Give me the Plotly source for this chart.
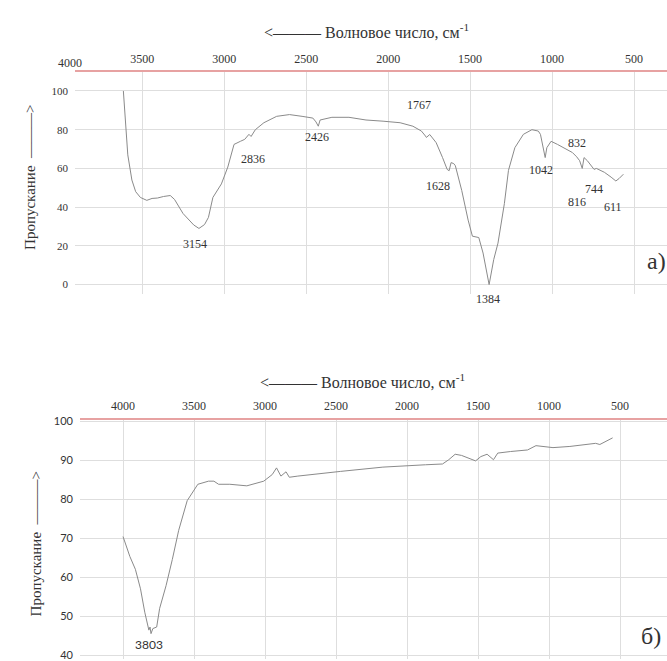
import plotly.graph_objects as go

W, H = 667, 661

# ---- Spectrum a) ----
wn_a = [3615, 3605, 3595, 3588, 3563, 3540, 3511, 3472, 3440, 3407, 3370, 3329, 3303, 3251,
        3186, 3154, 3120, 3096, 3069, 3017, 2978, 2940, 2901, 2875, 2849, 2836, 2810, 2758,
        2680, 2602, 2525, 2459, 2440, 2426, 2415, 2343, 2239, 2135, 2031, 1927, 1849, 1797,
        1772, 1767, 1746, 1707, 1668, 1640, 1628, 1616, 1600, 1590, 1551, 1512, 1486, 1447,
        1421, 1384, 1356, 1330, 1291, 1266, 1227, 1175, 1123, 1084, 1071, 1042, 1032, 1006,
        967, 915, 876, 850, 832, 816, 805, 785, 760, 744, 730, 700, 681, 640, 611, 591, 565]
tr_a = [100, 88, 76, 67, 54, 48, 45, 43.5, 44.5, 44.7, 45.5, 46, 44, 36.7,
        30.8, 29, 31, 34.7, 45, 52, 60.7, 72.4, 74, 75, 77.6, 76.5, 80, 83.6,
        86.9, 87.8, 86.9, 86, 84, 81.8, 85, 86.4, 86.4, 85, 84.4, 83.6, 81.8, 79.3,
        76.7, 76, 77.5, 73.3, 65.6, 59.5, 58.8, 63, 62.5, 61.4, 48.6, 33.3, 25, 24.3,
        16.3, 0, 12.9, 21.4, 41.8, 59, 70.7, 77.6, 80, 79.3, 77.6, 65.6, 70.7, 74,
        72.4, 69.9, 68.2, 66, 64, 60, 65.6, 64, 61, 59.5, 60, 59, 58, 55.5, 53.5, 54.8, 57]

peak_text_a = ["3154", "2836", "2426", "1767", "1628", "1384", "1042", "832", "816", "744", "611"]
peak_x_a = [3180, 2824, 2434, 1812, 1696, 1388, 1067, 850, 850, 746, 629]
peak_y_a = [21, 65, 76, 93, 51, -4, 59, 73.3, 42.7, 49.5, 40]

# ---- Spectrum б) ----
wn_b = [4000, 3952, 3913, 3877, 3847, 3818, 3810, 3803, 3790, 3763, 3742, 3697, 3653, 3608,
        3548, 3503, 3473, 3398, 3360, 3327, 3248, 3128, 3009, 2949, 2919, 2888, 2852, 2829,
        2769, 2469, 2170, 1870, 1750, 1706, 1661, 1616, 1571, 1517, 1480, 1436, 1391, 1361,
        1271, 1151, 1092, 972, 853, 672, 642, 552]
tr_b = [70.4, 65.3, 62, 57, 51, 46.4, 47.2, 45.5, 46.8, 47.2, 52, 57.8, 64.5, 72,
        79.6, 82, 83.8, 84.6, 84.6, 83.8, 83.8, 83.4, 84.6, 86.3, 88, 85.9, 87, 85.6,
        85.9, 87.1, 88.2, 88.8, 89, 90.1, 91.5, 91.2, 90.5, 89.8, 90.9, 91.5, 90.1, 91.8,
        92.2, 92.6, 93.7, 93.2, 93.5, 94.3, 94, 95.7]

peak_text_b = ["3803"]
peak_x_b = [3817]
peak_y_b = [42.6]

ticks_top = [3500, 3000, 2500, 2000, 1500, 1000, 500]
ticks_top_b = [4000, 3500, 3000, 2500, 2000, 1500, 1000, 500]
yticks_a = [0, 20, 40, 60, 80, 100]
yticks_b = [40, 50, 60, 70, 80, 90, 100]

SERIF = "Liberation Serif"
SANS = "Lato"
LINE = "#8a8a8a"
GRID = "#dedede"
RED = "#e7a2a2"
TXT = "#333333"

def py(p):
    return 1 - p / H

def px(p):
    return p / W

fig = go.Figure()
fig.add_trace(go.Scatter(x=wn_a, y=tr_a, mode="lines", line=dict(color=LINE, width=1),
                         xaxis="x", yaxis="y", showlegend=False, hoverinfo="skip"))
fig.add_trace(go.Scatter(x=wn_b, y=tr_b, mode="lines", line=dict(color=LINE, width=1),
                         xaxis="x2", yaxis="y2", showlegend=False, hoverinfo="skip"))

common_x = dict(side="top", showline=True, linecolor=RED, linewidth=1.5, showgrid=True,
                gridcolor=GRID, gridwidth=1, zeroline=False, ticks="", ticklabelstandoff=3,
                tickfont=dict(family=SERIF, size=12, color=TXT))
common_y = dict(showline=False, showgrid=True, gridcolor=GRID, gridwidth=1, zeroline=False,
                ticks="", ticklabelstandoff=6, ticklabeloverflow="allow")

fig.update_layout(
    width=W, height=H, margin=dict(l=0, r=0, t=0, b=0),
    paper_bgcolor="white", plot_bgcolor="white",
    xaxis=dict(domain=[px(75), 1], range=[3910, 299], anchor="y", tickvals=ticks_top, **common_x),
    yaxis=dict(domain=[py(291.8), py(67)], range=[-5, 109.7], anchor="x", tickvals=yticks_a,
               tickfont=dict(family=SERIF, size=11, color=TXT), **common_y),
    xaxis2=dict(domain=[px(80), 1], range=[4303, 169], anchor="y2", tickvals=ticks_top_b, **common_x),
    yaxis2=dict(domain=[0, py(419)], range=[39.0, 100.3], anchor="x2", tickvals=yticks_b,
                tickfont=dict(family=SANS, size=11, color=TXT), **common_y),
)

ann = []
for t, x, y in zip(peak_text_a, peak_x_a, peak_y_a):
    a = dict(x=x, y=y, xref="x", yref="y", text=t, showarrow=False,
             xanchor="center", yanchor="middle",
             font=dict(family=SERIF, size=12, color=TXT))
    if y < 0:
        a["yshift"] = -7
    ann.append(a)
for t, x, y in zip(peak_text_b, peak_x_b, peak_y_b):
    ann.append(dict(x=x, y=y, xref="x2", yref="y2", text=t, showarrow=False,
                    xanchor="center", yanchor="middle",
                    font=dict(family=SANS, size=12, color=TXT)))

title_txt = "<——— Волновое число, см<sup>-1</sup>"
ylab_txt = "Пропускание  ———>"
paper_txt = [
    (366, 25, title_txt, 0, SERIF, 16),
    (362, 380, title_txt, 0, SERIF, 16),
    (70, 58, "4000", 0, SERIF, 12),
    (30, 174, ylab_txt, -90, SERIF, 15),
    (36, 545, ylab_txt, -90, SERIF, 15),
    (656, 258, "а)", 0, SERIF, 24),
    (651, 638, "б)", 0, SERIF, 24),
]
for x, y, t, ang, fam, sz in paper_txt:
    ann.append(dict(x=px(x), y=py(y), xref="paper", yref="paper", text=t, textangle=ang,
                    showarrow=False, xanchor="center", yanchor="middle",
                    font=dict(family=fam, size=sz, color=TXT)))
fig.update_layout(annotations=ann)

fig.write_html("out.html", config={"displayModeBar": False},
               post_script="document.body.style.margin='0';")
